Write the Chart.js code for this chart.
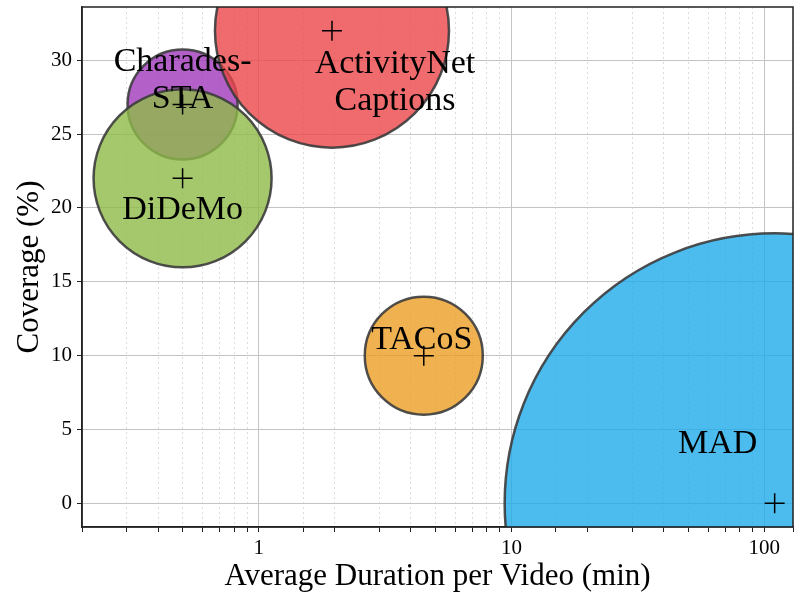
<!DOCTYPE html>
<html>
<head>
<meta charset="utf-8">
<script src="https://cdn.jsdelivr.net/npm/chart.js@4"></script>
<style>
  html, body { margin: 0; padding: 0; background: #fff; overflow: hidden; }
  canvas { display: block; }
</style>
</head>
<body>
<canvas id="chart" width="800" height="603"></canvas>
<script>
// datasets
const names = ["Charades-STA", "ActivityNet Captions", "DiDeMo", "TACoS", "MAD"];
const durations = [0.5, 1.95, 0.5, 4.5, 110];   // min, log axis
const coverage = [27, 32, 22, 10, 0];           // %
const bubbleSize = [55, 117, 89, 59, 270];      // marker radius (px)
const xTickLabels = [1, 10, 100];
const yTicks = [0, 5, 10, 15, 20, 25, 30];

// styles
const fills = [
  "rgba(160, 56, 187, 0.8)",
  "rgba(235, 70, 72, 0.8)",
  "rgba(142, 186, 72, 0.8)",
  "rgba(236, 158, 37, 0.8)",
  "rgba(31, 170, 232, 0.8)"
];
// draw order: first entry ends up on top
const drawOrder = [2, 1, 0, 3, 4];

const labelLines = [["Charades-", "STA"], ["ActivityNet", "Captions"], ["DiDeMo"], ["TACoS"], ["MAD"]];
const labelDx = [0, 63, 0, -2, -57];
const labelDy = [-34, 42, 41, -7, -50];

const serif = "'Liberation Serif', 'DejaVu Serif', serif";

// big bubbles would otherwise pad the whole layout; let the chart area clip them
Chart.registry.getController("bubble").prototype.getMaxOverflow = () => 0;

const noPad = (s) => {
  s.paddingTop = 0;
  s.paddingBottom = 0;
  s.paddingLeft = 0;
  s.paddingRight = 0;
};

const datasets = [{
  label: "centres",
  data: durations.map((d, i) => ({ x: d, y: coverage[i], r: 10 })),
  pointStyle: "cross",
  backgroundColor: "#000",
  borderColor: "#000",
  borderWidth: 1.5,
  hoverRadius: 0
}];
drawOrder.forEach((i) => {
  datasets.push({
    label: names[i],
    data: [{ x: durations[i], y: coverage[i], r: bubbleSize[i] }],
    backgroundColor: fills[i],
    borderColor: "rgba(60, 60, 60, 0.9)",
    borderWidth: 2.5,
    hoverRadius: 0
  });
});

const labelPlugin = {
  id: "bubbleLabels",
  afterDatasetsDraw(chart) {
    const { ctx, scales, chartArea } = chart;
    ctx.save();
    // frame on top of the patches
    ctx.strokeStyle = "#222";
    ctx.lineWidth = 1.5;
    ctx.strokeRect(chartArea.left, chartArea.top, chartArea.right - chartArea.left, chartArea.bottom - chartArea.top);
    ctx.fillStyle = "#000";
    ctx.font = "34px " + serif;
    ctx.textAlign = "center";
    ctx.textBaseline = "alphabetic";
    names.forEach((n, i) => {
      const px = scales.x.getPixelForValue(durations[i]) + labelDx[i];
      const py = scales.y.getPixelForValue(coverage[i]) + labelDy[i];
      labelLines[i].forEach((line, k) => ctx.fillText(line, px, py + k * 37));
    });
    ctx.restore();
  }
};

new Chart(document.getElementById("chart"), {
  type: "bubble",
  data: { datasets: datasets },
  plugins: [labelPlugin],
  options: {
    responsive: false,
    animation: false,
    devicePixelRatio: 1,
    layout: { padding: { top: 7, right: 7, left: 0, bottom: 0 } },
    plugins: { legend: { display: false }, tooltip: { enabled: false } },
    scales: {
      x: {
        type: "logarithmic",
        min: 0.2,
        max: 130,
        afterFit: (s) => { s.height = 76; noPad(s); },
        border: { color: "#222", width: 1.5 },
        grid: {
          color: (c) => (c.tick && xTickLabels.includes(c.tick.value) ? "#c4c4c4" : "rgba(0,0,0,0)"),
          tickColor: "#222",
          tickLength: 5
        },
        ticks: {
          autoSkip: false,
          maxRotation: 0,
          padding: 4,
          color: "#000",
          font: { family: serif, size: 21 },
          callback: (v) => (xTickLabels.includes(v) ? String(v) : "")
        },
        title: {
          display: true,
          text: "Average Duration per Video (min)",
          color: "#000",
          font: { family: serif, size: 31 },
          padding: { top: 0, bottom: 8 }
        }
      },
      xm: {
        type: "logarithmic",
        position: "bottom",
        min: 0.2,
        max: 130,
        afterFit: (s) => { s.height = 0; noPad(s); },
        border: { display: false, dash: [2, 3] },
        grid: {
          color: (c) => (c.tick && !xTickLabels.includes(c.tick.value) ? "#dcdcdc" : "rgba(0,0,0,0)"),
          drawTicks: false
        },
        ticks: { display: false, autoSkip: false }
      },
      y: {
        type: "linear",
        min: -1.6,
        max: 33.6,
        afterFit: (s) => { s.width = 82; noPad(s); },
        border: { color: "#222", width: 1.5 },
        grid: { color: "#c4c4c4", tickColor: "#222", tickLength: 5 },
        ticks: {
          includeBounds: false,
          stepSize: 5,
          padding: 5,
          color: "#000",
          font: { family: serif, size: 21 },
          callback: (v) => (yTicks.includes(v) ? String(v) : "")
        },
        title: {
          display: true,
          text: "Coverage (%)",
          color: "#000",
          font: { family: serif, size: 31 },
          padding: { top: 11, bottom: 0 }
        }
      }
    }
  }
});
</script>
</body>
</html>
